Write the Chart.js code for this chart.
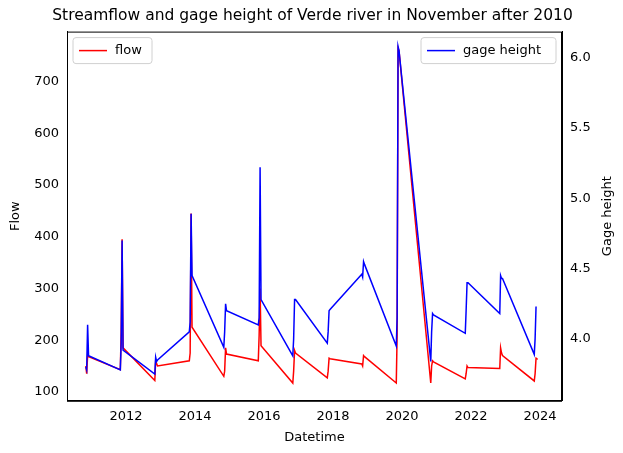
<!DOCTYPE html>
<html>
<head>
<meta charset="utf-8">
<script src="https://cdn.jsdelivr.net/npm/chart.js@4.4.1/dist/chart.umd.min.js"></script>
<style>
  body { margin: 0; background: #fff; }
  #wrap { width: 623px; height: 453px; }
</style>
</head>
<body>
<div id="wrap"><canvas id="myChart" width="623" height="453"></canvas></div>
<script>
// November readings, four per year (1st, 10th, 20th, 30th)
const years = [2010, 2011, 2012, 2013, 2014, 2015, 2016, 2017, 2018, 2019, 2020, 2021, 2022, 2023];
const days = [1, 10, 20, 30];
const flow = [
  150, 135, 170, 168,
  143, 215, 395, 185,
  122, 160, 155, 150,
  160, 175, 445, 225,
  130, 140, 185, 173,
  160, 210, 300, 189,
  117, 140, 180, 175,
  127, 140, 165, 164,
  154, 150, 170, 168,
  117, 210, 765, 760,
  117, 150, 160, 158,
  125, 135, 150, 147,
  145, 185, 175, 170,
  121, 135, 165, 164
];
const gage = [
  3.80, 3.78, 4.10, 3.88,
  3.78, 3.97, 4.70, 3.92,
  3.75, 3.87, 3.84, 3.85,
  4.05, 4.12, 4.89, 4.45,
  3.94, 4.05, 4.25, 4.20,
  4.10, 4.15, 5.22, 4.28,
  3.88, 4.00, 4.28, 4.28,
  3.97, 4.05, 4.20, 4.21,
  4.46, 4.44, 4.55, 4.53,
  3.95, 4.15, 6.08, 6.05,
  3.84, 4.05, 4.18, 4.17,
  4.04, 4.20, 4.40, 4.40,
  4.18, 4.45, 4.43, 4.43,
  3.89, 4.00, 4.23, 4.23
];
const xTicks = [2012, 2014, 2016, 2018, 2020, 2022, 2024];
const flowTicks = [100, 200, 300, 400, 500, 600, 700];
const gageTicks = [4.0, 4.5, 5.0, 5.5, 6.0];

// decimal year for each reading (Nov 1 is day 305)
const xs = [];
years.forEach(function(y){
  days.forEach(function(d){ xs.push(y + (304 + d) / 365); });
});
const flowPts = xs.map(function(x, i){ return {x: x, y: flow[i]}; });
const gagePts = xs.map(function(x, i){ return {x: x, y: gage[i]}; });

Chart.defaults.font.family = 'DejaVu Sans';
Chart.defaults.font.size = 13;
Chart.defaults.color = '#000';

const fixTicks = function(list){
  return function(axis){ axis.ticks = list.map(function(v){ return {value: v}; }); };
};

const extras = {
  id: 'extras',
  afterDraw(chart) {
    const ctx = chart.ctx;
    const a = chart.chartArea;
    // axes frame
    ctx.save();
    ctx.strokeStyle = '#000'; ctx.lineWidth = 1;
    ctx.strokeRect(a.left + 0.5, a.top + 0.5, a.right - a.left - 1, a.bottom - a.top);
    ctx.restore();
    // right axis title, reading bottom to top
    ctx.save();
    ctx.translate(608, (a.top + a.bottom) / 2);
    ctx.rotate(-Math.PI / 2);
    ctx.font = '13px DejaVu Sans';
    ctx.fillStyle = '#000';
    ctx.textAlign = 'center';
    ctx.textBaseline = 'middle';
    ctx.fillText('Gage height', 0, 0);
    ctx.restore();
    function box(x, y, w, label, color) {
      ctx.save();
      ctx.fillStyle = 'rgba(255,255,255,0.8)';
      ctx.strokeStyle = '#d0d0d0';
      ctx.lineWidth = 1;
      ctx.beginPath();
      ctx.roundRect(x, y, w, 26, 3);
      ctx.fill(); ctx.stroke();
      ctx.strokeStyle = color; ctx.lineWidth = 1.5;
      ctx.beginPath(); ctx.moveTo(x + 6, y + 13); ctx.lineTo(x + 34, y + 13); ctx.stroke();
      ctx.fillStyle = '#000';
      ctx.font = '13px DejaVu Sans';
      ctx.textBaseline = 'middle';
      ctx.fillText(label, x + 42, y + 13);
      ctx.restore();
    }
    box(a.left + 6, a.top + 6, 79, 'flow', 'red');
    box(a.right - 141, a.top + 6, 135, 'gage height', 'blue');
  }
};

new Chart(document.getElementById('myChart'), {
  type: 'line',
  data: {
    datasets: [
      { label: 'flow', data: flowPts, borderColor: 'red', borderWidth: 1.5, pointRadius: 0, yAxisID: 'y', order: 1 },
      { label: 'gage height', data: gagePts, borderColor: 'blue', borderWidth: 1.5, pointRadius: 0, yAxisID: 'y2', order: 0 }
    ]
  },
  options: {
    responsive: false,
    animation: false,
    layout: { padding: { top: 0, right: 4, bottom: 4, left: 6 } },
    plugins: {
      legend: { display: false },
      tooltip: { enabled: false },
      title: { display: true, text: 'Streamflow and gage height of Verde river in November after 2010',
               font: { size: 15.5, weight: 'normal' }, padding: { top: 7, bottom: 6 } }
    },
    scales: {
      x: {
        type: 'linear', min: 2010.29, max: 2024.64,
        afterBuildTicks: fixTicks(xTicks),
        ticks: { callback: function(v){ return String(v); }, padding: 3 },
        grid: { display: false, drawTicks: true, tickLength: 5, tickColor: '#000' },
        border: { color: '#000' },
        title: { display: true, text: 'Datetime', padding: { top: 2 } }
      },
      y: {
        position: 'left', min: 82.6, max: 797,
        afterBuildTicks: fixTicks(flowTicks),
        afterFit: function(s){ s.width = 61; },
        grid: { display: false, tickLength: 5, tickColor: '#000' },
        border: { color: '#000' },
        title: { display: true, text: 'Flow', padding: 2 }
      },
      y2: {
        position: 'right', min: 3.56, max: 6.185,
        afterBuildTicks: fixTicks(gageTicks),
        afterFit: function(s){ s.width = 57; },
        ticks: { callback: function(v){ return v.toFixed(1); } },
        grid: { display: false, tickLength: 5, tickColor: '#000' },
        border: { color: '#000' },
        title: { display: false }
      }
    }
  },
  plugins: [extras]
});
</script>
</body>
</html>
